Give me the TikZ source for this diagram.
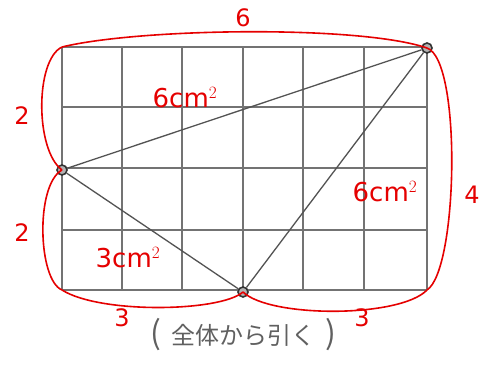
\documentclass[tikz,border=0pt]{standalone}
\usepackage{fontspec}
\setmainfont{DejaVu Sans}
\newfontfamily\cjk{Noto Sans CJK JP}
\begin{document}
\begin{tikzpicture}[x=1pt,y=-1pt,
  gridline/.style={draw=gray!90!black,line width=1.4pt},
  redcurve/.style={draw=red!90!black,line width=1.6pt},
  seg/.style={draw=gray!65!black,line width=1.3pt},
  dot/.style={circle,draw=gray!40!black,fill=gray!60,line width=1.6pt,minimum size=10pt,inner sep=0pt},
  redlab/.style={text=red!90!black,font=\fontsize{24}{24}\selectfont,inner sep=0pt},
  arealab/.style={text=red!90!black,font=\fontsize{26}{26}\selectfont,inner sep=0pt},
  note/.style={text=gray!75!black,font=\cjk\fontsize{24}{24}\selectfont,inner sep=0pt}]
\useasboundingbox (0,0) rectangle (486,366);
\fill[white] (0,0) rectangle (486,366);
% grid
\foreach \x in {62,122,182,243,303,364,427} \draw[gridline] (\x,47) -- (\x,290);
\foreach \y in {47,107,168,230,290} \draw[gridline] (62,\y) -- (427,\y);
% points
\node[dot] (tr) at (427,48) {};
\node[dot] (lm) at (62,170) {};
\node[dot] (bm) at (243,292) {};
\coordinate (tl) at (62,47);
\coordinate (bl) at (62,290);
\coordinate (br) at (427,290);
% triangle
\draw[seg] (lm) -- (tr);
\draw[seg] (lm) -- (bm);
\draw[seg] (bm) -- (tr);
% red curves
\draw[redcurve] (tl) .. controls (140,28) and (360,25) .. (tr.center);
\draw[redcurve] (tl) .. controls (35,60) and (35,150) .. (lm.center);
\draw[redcurve] (lm.center) .. controls (35,185) and (38,280) .. (bl);
\draw[redcurve] (tr.center) .. controls (462,60) and (458,270) .. (br);
\draw[redcurve] (bl) .. controls (100,314) and (220,312) .. (bm.center);
\draw[redcurve] (bm.center) .. controls (270,318) and (400,318) .. (br);
% labels
\node[redlab] (l6) at (243,18) {6};
\node[redlab] (l2a) at (22,116) {2};
\node[redlab] (l2b) at (22,233) {2};
\node[redlab] (l4) at (472,195) {4};
\node[redlab] (l3a) at (122,318) {3};
\node[redlab] (l3b) at (362,318) {3};
\node[arealab] (a1) at (185,98) {6cm$^2$};
\node[arealab] (a2) at (385,192) {6cm$^2$};
\node[arealab] (a3) at (128,258) {3cm$^2$};
\node[note] (nt) at (243,335) {{\fontsize{32}{32}\selectfont(}\hspace{10pt}全体から引く\hspace{10pt}{\fontsize{32}{32}\selectfont)}};
\end{tikzpicture}
\end{document}
